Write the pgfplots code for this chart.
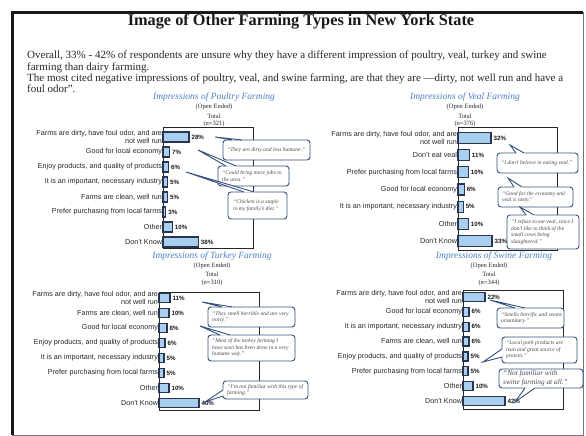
\documentclass[border=0pt]{standalone}
\usepackage{pgfplots}
\pgfplotsset{compat=1.18}
\usetikzlibrary{calc}
\usepackage{fontspec}
\setmainfont{Liberation Serif}
\newfontfamily\arial{Liberation Sans}
\definecolor{barfill}{HTML}{A8CEF0}
\definecolor{baredge}{HTML}{2A3550}
\definecolor{ttlblue}{HTML}{4A7EC4}
\definecolor{cnavy}{HTML}{34507A}
\definecolor{ctext}{HTML}{4A4A5A}

\pgfplotsset{
 chartbase/.style={
  scale only axis, anchor=north west, xbar, y dir=reverse, xmin=0,
  xtick=\empty, major tick length=0pt,
  axis line style={draw=black!85, line width=0.8bp},
  yticklabel style={font=\arial\fontsize{7.2bp}{8.4bp}\selectfont, align=right, inner xsep=0.8bp, text=black!85},
  nodes near coords={\pgfmathprintnumber[assume math mode=true]{\pgfplotspointmeta}\%},
  nodes near coords style={font=\arial\bfseries\fontsize{6.2bp}{6.5bp}\selectfont, text=black!90, inner xsep=2bp},
  clip=false,
 },
 mybar/.style={fill=barfill, draw=baredge, line width=1.2bp},
}

\def\cfont{\itshape\fontsize{5.6bp}{6.6bp}\selectfont}
\newcommand{\callout}[9]{%
 \draw[cnavy, line width=0.9bp, fill=white, rounded corners=3bp] (#1,#2) rectangle (#3,#4);
 \fill[white] #5 -- ($#6!-1.5bp!#5$) -- ($#7!-1.5bp!#5$) -- cycle;
 \draw[cnavy, line width=0.9bp, line join=miter] #6 -- #5 -- #7;
 \node[anchor=west, align=left, inner sep=0pt, text=ctext, font=\cfont] at #8 {#9};
}

\begin{document}
\begin{tikzpicture}
\path[use as bounding box] (0,0) rectangle (586bp,436bp);

% Poultry
\begin{axis}[chartbase, at={(163bp,309bp)}, width=90bp, height=121bp, xmax=97,
 ymin=-0.67, ymax=7.4, ytick={0,...,7}, bar width=10bp,
 yticklabels={{Farms are dirty, have foul odor, and are\\not well run}, {Good for local economy}, {Enjoy products, and quality of products}, {It is an important, necessary industry}, {Farms are clean, well run}, {Prefer purchasing from local farms}, {Other}, {Don’t Know}}]
\addplot[mybar] coordinates {(28,0) (7,1) (6,2) (5,3) (5,4) (3,5) (10,6) (38,7)};
\end{axis}

% Veal
\begin{axis}[chartbase, at={(458bp,309bp)}, width=99bp, height=123bp, xmax=96,
 ymin=-0.64, ymax=6.52, ytick={0,...,6}, bar width=11bp,
 yticklabels={{Farms are dirty, have foul odor, and are\\not well run}, {Don’t eat veal}, {Prefer purchasing from local farms}, {Good for local economy}, {It is an important, necessary industry}, {Other}, {Don’t Know}}]
\addplot[mybar] coordinates {(32,0) (11,1) (10,2) (6,3) (5,4) (10,5) (33,6)};
\end{axis}

% Turkey
\begin{axis}[chartbase, at={(159bp,144bp)}, width=100bp, height=118bp, xmax=100,
 ymin=-0.4, ymax=7.47, ytick={0,...,7}, bar width=9bp,
 yticklabels={{Farms are dirty, have foul odor, and are\\not well run}, {Farms are clean, well run}, {Good for local economy}, {Enjoy products, and quality of products}, {It is an important, necessary industry}, {Prefer purchasing from local farms}, {Other}, {Don’t Know}}]
\addplot[mybar] coordinates {(11,0) (10,1) (8,2) (6,3) (5,4) (5,5) (10,6) (40,7)};
\end{axis}

% Swine
\begin{axis}[chartbase, at={(463bp,146bp)}, width=100bp, height=119bp, xmax=100,
 ymin=-0.47, ymax=7.54, ytick={0,...,7}, bar width=9bp,
 yticklabels={{Farms are dirty, have foul odor, and are\\not well run}, {Good for local economy}, {It is an important, necessary industry}, {Farms are clean, well run}, {Enjoy products, and quality of products}, {Prefer purchasing from local farms}, {Other}, {Don’t Know}}]
\addplot[mybar] coordinates {(22,0) (6,1) (6,2) (6,3) (5,4) (5,5) (10,6) (42,7)};
\end{axis}

\begin{scope}[x=1bp, y=-1bp, shift={(0bp,436bp)}]
% frame
\draw[black!55, line width=0.8bp] (583,12) -- (583,435) -- (12,435);
\draw[black!90, line width=3bp] (12.5,435) -- (12.5,12.5) -- (583,12.5);

% heading
\node[font=\bfseries\fontsize{16.3bp}{18bp}\selectfont, text=black!90] at (301,21.5) {Image of Other Farming Types in New York State};
\begin{scope}[every node/.style={anchor=base west, inner sep=0pt, font=\fontsize{11bp}{12bp}\selectfont, text=black!85}]
\node at (27,59) {Overall, 33\% - 42\% of respondents are unsure why they have a different impression of poultry, veal, turkey and swine};
\node at (27,70.5) {farming than dairy farming.};
\node at (27,82) {The most cited negative impressions of poultry, veal, and swine farming, are that they are ―dirty, not well run and have a};
\node at (27,93) {foul odor”.};
\end{scope}

% chart titles
\begin{scope}[every node/.style={inner sep=0pt, font=\fontsize{6.5bp}{7bp}\selectfont, text=black!85}]
\node[font=\itshape\fontsize{9.5bp}{10bp}\selectfont, text=ttlblue] at (214,97.5) {Impressions of Poultry Farming};
\node at (214,107) {(Open Ended)}; \node at (214,116) {Total}; \node at (214,124) {(n=321)};
\node[font=\itshape\fontsize{9.5bp}{10bp}\selectfont, text=ttlblue] at (465,97.5) {Impressions of Veal Farming};
\node at (465,107) {(Open Ended)}; \node at (465,116) {Total}; \node at (465,124) {(n=376)};
\node[font=\itshape\fontsize{9.5bp}{10bp}\selectfont, text=ttlblue] at (212,256) {Impressions of Turkey Farming};
\node at (212,266) {(Open Ended)}; \node at (212,274.5) {Total}; \node at (212,283) {(n=310)};
\node[font=\itshape\fontsize{9.5bp}{10bp}\selectfont, text=ttlblue] at (494,256) {Impressions of Swine Farming};
\node at (489,266) {(Open Ended)}; \node at (489,274.5) {Total}; \node at (489,283) {(n=344)};
\end{scope}

% callouts - poultry
\callout{223}{140}{310}{160}{(215,137)}{(232,140)}{(242,140)}{(227,150)}{“They are dirty and less humane.”}
\callout{218}{166}{289}{186}{(198,150)}{(226,166)}{(236,166)}{(222,176)}{“Could bring more jobs to\\the area.”}
\callout{228}{192}{287}{219}{(186,172)}{(244,192)}{(254,192)}{(233,205.5)}{“Chicken is a staple\\in my family’s diet.”}
% veal
\callout{497}{153}{578}{173}{(510,145)}{(516,153)}{(524,153)}{(501,163)}{“I don’t believe in eating veal.”}
\callout{498}{187}{573}{207}{(508,178)}{(514,187)}{(522,187)}{(502,197)}{“Good for the economy and\\veal is tasty.”}
\callout{507}{215}{579}{249}{(520,207)}{(526,215)}{(534,215)}{(511,232)}{“I refuse to eat veal, since I\\don’t like to think of the\\small cows being\\slaughtered.”}
% turkey
\callout{208}{307}{295}{327}{(202,302)}{(222,307)}{(232,307)}{(212,317)}{“They smell horrible and are very\\noisy.”}
\callout{208}{335}{295}{361}{(200,326)}{(220,335)}{(230,335)}{(212,348)}{“Most of the turkey farming I\\have seen has been done in a very\\humane way.”}
\callout{223}{381}{308}{399}{(205,402)}{(223,390)}{(223,396)}{(227,390)}{“I’m not familiar with this type of\\farming.”}
% swine
\callout{497}{308}{564}{328}{(490,300)}{(515,308)}{(525,308)}{(501,318)}{“Smells horrific and seems\\unsanitary.”}
\callout{502}{337}{577}{363}{(483,362)}{(502,349)}{(502,357)}{(506,350)}{“Local pork products are\\lean and great source of\\protein.”}
\def\cfont{\itshape\fontsize{7.3bp}{9bp}\selectfont}
\callout{499}{369}{583}{388}{(515,402)}{(525,388)}{(535,388)}{(503,378.5)}{“Not familiar with\\swine farming at all.”}
\end{scope}
\end{tikzpicture}
\end{document}
